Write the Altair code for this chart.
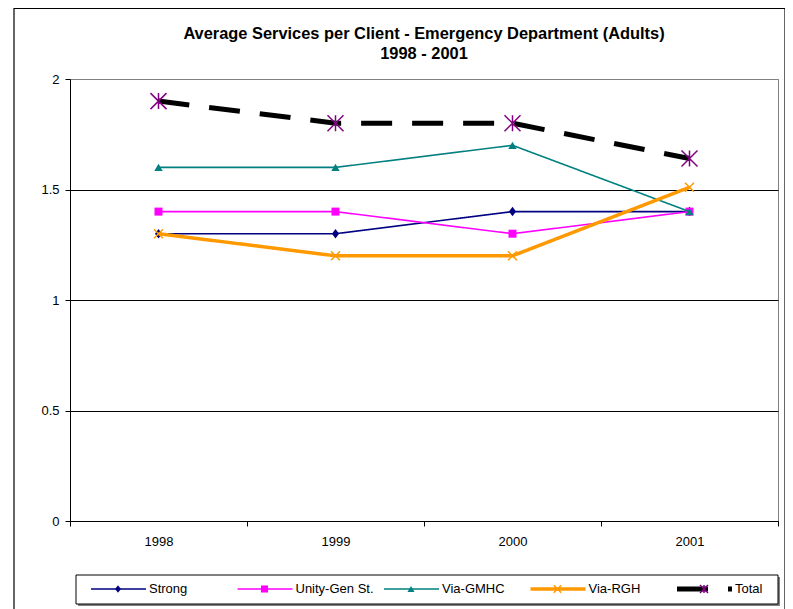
import altair as alt
import pandas as pd

# ---------------- data ----------------
years = ["1998", "1999", "2000", "2001"]
series_names = ["Strong", "Unity-Gen St.", "Via-GMHC", "Via-RGH", "Total"]
strong = [1.3, 1.3, 1.4, 1.4]
unity = [1.4, 1.4, 1.3, 1.4]
gmhc = [1.6, 1.6, 1.7, 1.4]
rgh = [1.3, 1.2, 1.2, 1.51]
total = [1.9, 1.8, 1.8, 1.64]
y_ticks = [0, 0.5, 1, 1.5, 2]
title_lines = ["Average Services per Client - Emergency Department (Adults)", "1998 - 2001"]

series_values = [strong, unity, gmhc, rgh, total]
df = pd.DataFrame(
    [{"series": s, "year": y, "value": v}
     for s, vals in zip(series_names, series_values)
     for y, v in zip(years, vals)]
)
legend_df = pd.DataFrame({"series": series_names})

# ---------------- styles ----------------
FONT = "Liberation Sans"
DIAMOND = "M0,-1L0.75,0L0,1L-0.75,0Z"
XMARK = "M-1,-1L1,1M-1,1L1,-1"
STAR = "M-1,-1L1,1M-1,1L1,-1M0,-1L0,1"

styles = {
    "Strong": dict(line="#000080", width=1.6, dash=[1, 0], marker="#000080",
                   shape=DIAMOND, size=90, lsize=60, filled=True),
    "Unity-Gen St.": dict(line="#FF00FF", width=1.6, dash=[1, 0], marker="#FF00FF",
                          shape="square", size=64, lsize=50, filled=True),
    "Via-GMHC": dict(line="#008080", width=1.6, dash=[1, 0], marker="#008080",
                     shape="triangle-up", size=70, lsize=50, filled=True),
    "Via-RGH": dict(line="#FF9900", width=3.5, dash=[1, 0], marker="#FF9900",
                    shape=XMARK, size=81, lsize=55, filled=False),
    "Total": dict(line="#000000", width=5, dash=[31, 20], marker="#800080",
                  shape=STAR, size=256, lsize=64, filled=False),
}

x_enc = alt.X(
    "year:N", sort=years,
    scale=alt.Scale(type="band", domain=years, paddingInner=0, paddingOuter=0),
    axis=alt.Axis(title=None, labelAngle=0, tickBand="extent", tickSize=5,
                  labelPadding=9, grid=False),
)
y_enc = alt.Y(
    "value:Q",
    scale=alt.Scale(domain=[0, 2], nice=False, zero=True),
    axis=alt.Axis(title=None, values=y_ticks, format="~g", tickSize=5, labelPadding=6,
                  grid=True,
                  gridColor={"condition": {"test": "datum.value === 2", "value": "#808080"},
                             "value": "#000000"}),
)

data_layers = []
for name in series_names:
    st = styles[name]
    sub = alt.Chart(df).transform_filter(alt.datum.series == name)
    data_layers.append(
        sub.mark_line(color=st["line"], strokeWidth=st["width"], strokeDash=st["dash"])
        .encode(x=x_enc, y=y_enc)
    )
    if st["filled"]:
        pm = sub.mark_point(shape=st["shape"], size=st["size"], filled=True,
                            color=st["marker"], opacity=1, strokeWidth=0)
    else:
        pm = sub.mark_point(shape=st["shape"], size=st["size"], filled=False,
                            color=st["marker"], opacity=1, strokeWidth=1.5)
    data_layers.append(pm.encode(x=x_enc, y=y_enc))

main = alt.layer(*data_layers)

# ---------------- legend (drawn from the series names) ----------------
LEG_Y = 510
lx = alt.X("series:N", sort=series_names,
           scale=alt.Scale(type="point", domain=series_names, range=[48, 634], padding=0),
           axis=None)
box = alt.Chart(pd.DataFrame({"k": [0]}))
legend_layers = [
    box.mark_rect(color="#808080").encode(
        x=alt.value(8), x2=alt.value(710), y=alt.value(498), y2=alt.value(527)),
    box.mark_rect(fill="white", stroke="black", strokeWidth=1).encode(
        x=alt.value(6), x2=alt.value(708), y=alt.value(496), y2=alt.value(525)),
]
for name in series_names:
    st = styles[name]
    sub = alt.Chart(legend_df).transform_filter(alt.datum.series == name)
    legend_layers.append(
        sub.mark_rule(color=st["line"], strokeWidth=st["width"], strokeDash=st["dash"],
                      xOffset=-27, x2Offset=28)
        .encode(x=lx, x2="series:N", y=alt.value(LEG_Y))
    )
    legend_layers.append(
        sub.mark_point(shape=st["shape"], size=st["lsize"], filled=st["filled"],
                       color=st["marker"], opacity=1,
                       strokeWidth=(0 if st["filled"] else 1.5))
        .encode(x=lx, y=alt.value(LEG_Y))
    )
    legend_layers.append(
        sub.mark_text(align="left", baseline="middle", dx=31, font=FONT, fontSize=13,
                      color="black")
        .encode(x=lx, y=alt.value(LEG_Y), text="series:N")
    )
legend = alt.layer(*legend_layers)

frame = box.mark_rect(filled=False, stroke="black", strokeWidth=1.2).encode(
    x=alt.value(-56), x2=alt.value(715), y=alt.value(-70.5), y2=alt.value(560))

chart = (
    alt.layer(frame, main, legend)
    .resolve_scale(x="independent")
    .properties(
        width=708, height=442,
        title=alt.Title(title_lines, font=FONT, fontSize=16.4, fontWeight="bold",
                        color="black", anchor="middle", lineHeight=20, offset=0, dy=54),
        padding={"left": 62, "top": 71, "right": 7, "bottom": 88},
        autosize=alt.AutoSizeParams(type="none"),
        background="white",
    )
    .configure_view(stroke="#808080", strokeWidth=1)
    .configure_axis(labelFont=FONT, labelFontSize=13, labelColor="black",
                    domainColor="black", tickColor="black", domainWidth=1)
)

chart.save("out.html", embed_options={"renderer": "svg", "actions": False})
